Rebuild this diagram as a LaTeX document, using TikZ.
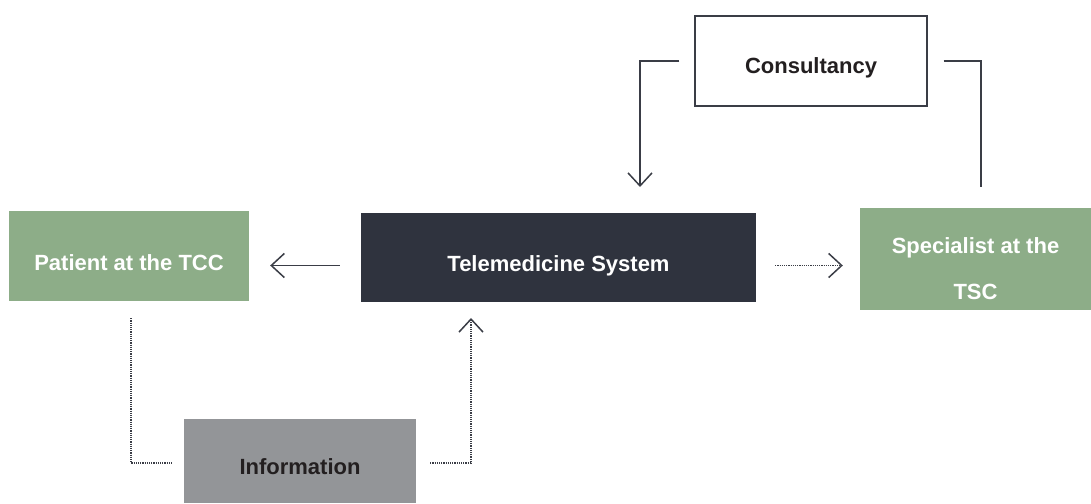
\documentclass[tikz,border=0pt]{standalone}
\usepackage{fontspec}
\setmainfont{Liberation Sans}
\usetikzlibrary{arrows.meta}
\definecolor{linec}{HTML}{3A3D46}
\definecolor{greenbox}{HTML}{8DAD88}
\definecolor{darkbox}{HTML}{2F333E}
\definecolor{graybox}{HTML}{939598}
\definecolor{textdark}{HTML}{231F20}
\tikzset{
  box/.style={rectangle, inner sep=0pt, font=\fontsize{22}{46}\selectfont\bfseries, align=center},
  greenb/.style={box, fill=greenbox, text=white},
  conn/.style={draw=linec, line width=1.6pt},
  dotline/.style={conn, dash pattern=on 1.2pt off 1pt},
  tip/.style={-{Straight Barb[length=13pt,width=24pt,line width=1.5pt]}},
}
\newcommand{\dn}[2]{\raisebox{-#1}[\height][\depth]{#2}}
\begin{document}
\begin{tikzpicture}[x=1pt,y=-1pt]
\useasboundingbox (0,0) rectangle (1091,503);
\node[box, draw=linec, line width=1.3pt, fill=white, text=textdark, minimum width=232pt, minimum height=90pt] (cons) at (811,61) {\dn{7pt}{Consultancy}};
\node[greenb, minimum width=240pt, minimum height=90pt] (pat) at (129,256) {\dn{7pt}{Patient at the TCC}};
\node[box, fill=darkbox, text=white, minimum width=395pt, minimum height=89pt] (tele) at (558.5,257.5) {\dn{8pt}{Telemedicine System}};
\node[greenb, minimum width=231pt, minimum height=102pt] (spec) at (975.5,259) {\dn{8pt}{\begin{tabular}{@{}c@{}}Specialist at the\\TSC\end{tabular}}};
\node[box, fill=graybox, text=textdark, minimum width=232pt, minimum height=84pt] (info) at (300,461) {\dn{6pt}{Information}};
\coordinate (c1) at (640,187);
\coordinate (c2) at (981,187);
\coordinate (t1) at (471,318);
\draw[conn, tip] ([xshift=-15pt]cons.west) -| (c1);
\draw[conn] ([xshift=16pt]cons.east) -| (c2);
\draw[conn, tip] ([xshift=-21pt,yshift=-8pt]tele.west) -- ([xshift=21pt,yshift=-8pt]tele.west -| pat.east);
\draw[dotline, tip] ([xshift=19pt,yshift=-8pt]tele.east) -- ([xshift=-17pt,yshift=-8pt]tele.east -| spec.west);
\draw[dotline] ([xshift=2pt,yshift=-17pt]pat.south) |- ([xshift=-12pt,yshift=-2pt]info.west);
\draw[dotline, tip] ([xshift=14pt,yshift=-2pt]info.east) -| (t1);
\end{tikzpicture}
\end{document}
